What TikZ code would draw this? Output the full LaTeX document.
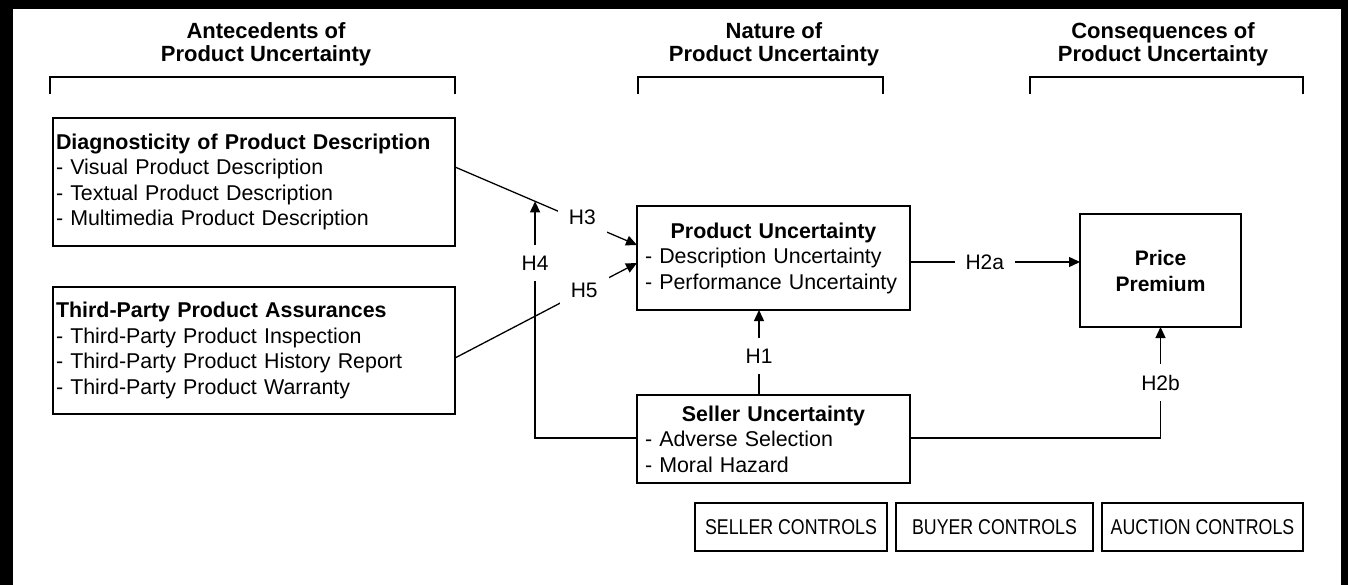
\documentclass[tikz,border=0pt]{standalone}
\usepackage{fontspec}
\setmainfont{Liberation Sans}
\usepackage{graphicx}
\usetikzlibrary{arrows.meta,calc}
\newcommand{\ctrltext}[1]{\scalebox{0.83}[1]{#1}}
\begin{document}
\begin{tikzpicture}[x=1pt,y=-1pt,
  box/.style={draw=black, line width=1.3pt, outer sep=0pt, anchor=north west,
    font=\fontsize{21.4}{25.5}\selectfont},
  head/.style={font=\fontsize{22}{23}\selectfont\bfseries, align=center, inner sep=0pt},
  conn/.style={line width=1.3pt, draw=black},
  arr/.style={conn, -{Triangle[length=11pt,width=10pt]}},
  lbl/.style={fill=white, font=\fontsize{21}{24}\selectfont, inner sep=11pt}
]
\useasboundingbox (0,0) rectangle (1348,585);
% frame
\fill[black] (0,0) rectangle (12.5,585);
\fill[black] (0,0) rectangle (1348,9.5);
\fill[black] (1340.5,0) rectangle (1348,585);

% headings
\node[head] (h1) at (266,44) {Antecedents of\\Product Uncertainty};
\node[head] (h2) at (774,44) {Nature of\\Product Uncertainty};
\node[head] (h3) at (1163,44) {Consequences of\\Product Uncertainty};

% brackets
\draw[conn] (50,94) -- (50,77) -- (455,77) -- (455,94);
\draw[conn] (638,94) -- (638,77) -- (883,77) -- (883,94);
\draw[conn] (1030,94) -- (1030,77) -- (1303,77) -- (1303,94);

% boxes
\node[box, minimum width=402pt, minimum height=128pt, inner xsep=3pt, inner ysep=0pt,
  text width=396pt, align=left] (b1) at (53,118)
  {\textbf{Diagnosticity of Product Description}\\- Visual Product Description\\- Textual Product Description\\- Multimedia Product Description};
\node[box, minimum width=402pt, minimum height=127pt, inner xsep=3pt, inner ysep=0pt,
  text width=396pt, align=left] (b2) at (53,287)
  {\textbf{Third-Party Product Assurances}\\- Third-Party Product Inspection\\- Third-Party Product History Report\\- Third-Party Product Warranty};
\node[box, minimum width=273pt, minimum height=104pt, inner xsep=8pt, inner ysep=0pt,
  text width=257pt, align=left] (pu) at (637,206)
  {\makebox[\linewidth][c]{\textbf{Product Uncertainty}}\\- Description Uncertainty\\- Performance Uncertainty};
\node[box, minimum width=273pt, minimum height=88pt, inner xsep=8pt, inner ysep=0pt,
  text width=257pt, align=left] (su) at (637,395)
  {\makebox[\linewidth][c]{\textbf{Seller Uncertainty}}\\- Adverse Selection\\- Moral Hazard};
\node[box, minimum width=161pt, minimum height=113pt, inner sep=0pt, align=center,
  font=\fontsize{21}{26}\selectfont\bfseries] (pp) at (1080,214) {Price\\Premium};

% controls
\node[box, minimum width=192pt, minimum height=48pt, inner sep=0pt] (c1) at (695,503) {\ctrltext{SELLER CONTROLS}};
\node[box, minimum width=197pt, minimum height=48pt, inner sep=0pt] (c2) at (896,503) {\ctrltext{BUYER CONTROLS}};
\node[box, minimum width=201pt, minimum height=48pt, inner sep=0pt] (c3) at (1102,503) {\ctrltext{AUCTION CONTROLS}};

% connectors
\draw[arr] ([yshift=-49pt]b1.north east) -- coordinate[pos=0.44] (m3) node[lbl,pos=0.70,yshift=4pt] {H3} ([yshift=-39pt]pu.north west);
\draw[arr] ([yshift=-71pt]b2.north east) -- node[lbl,pos=0.71] {H5} ([yshift=-57pt]pu.north west);
\draw[arr] ([yshift=-43pt]su.north west) -| node[lbl,pos=0.87] {H4} (m3);
\draw[arr] ([xshift=-14.5pt]su.north) -- node[lbl,pos=0.46] {H1} ([xshift=-14.5pt]pu.south);
\draw[arr] ([yshift=-56pt]pu.north east) -- node[lbl,pos=0.44] {H2a} ([yshift=-48pt]pp.north west);
\draw[arr] ([yshift=-43pt]su.north east) -| node[lbl,pos=0.75] {H2b} (pp.south);
\end{tikzpicture}
\end{document}
